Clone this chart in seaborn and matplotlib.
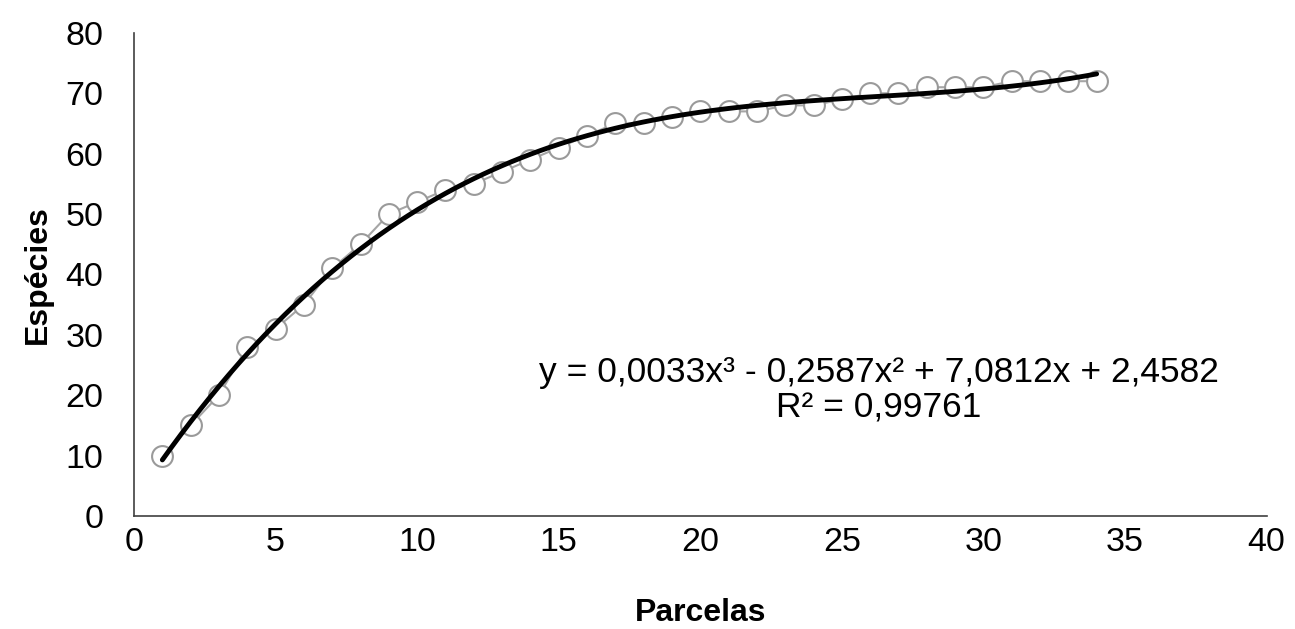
import matplotlib
matplotlib.use("Agg")
import matplotlib.pyplot as plt
import seaborn as sns
import pandas as pd

# Species accumulation data
parcelas = list(range(1, 35))
especies = [10, 15, 20, 28, 31, 35, 41, 45, 50, 52,
            54, 55, 57, 59, 61, 63, 65, 65, 66, 67,
            67, 67, 68, 68, 69, 70, 70, 71, 71, 71,
            72, 72, 72, 72]

x_ticks = [0, 5, 10, 15, 20, 25, 30, 35, 40]
y_ticks = [0, 10, 20, 30, 40, 50, 60, 70, 80]
equation = "y = 0,0033x³ - 0,2587x² + 7,0812x + 2,4582"
r2_text = "R² = 0,99761"

df = pd.DataFrame({"Parcelas": parcelas, "Espécies": especies})

sns.set_style("white")
plt.rcParams["font.family"] = ["Liberation Sans", "DejaVu Sans"]
plt.rcParams["text.color"] = "black"
plt.rcParams["xtick.color"] = "black"
plt.rcParams["ytick.color"] = "black"
plt.rcParams["axes.labelcolor"] = "black"

fig = plt.figure(figsize=(12.95, 6.29), dpi=100)
ax = fig.add_axes([0.1035, 0.1797, 0.8745, 0.768])

# observed points joined by a thin gray line
sns.lineplot(data=df, x="Parcelas", y="Espécies", ax=ax, color="#a6a6a6",
             linewidth=1.5, marker="o", markersize=15, markerfacecolor="white",
             markeredgecolor="#9a9a9a", markeredgewidth=1.5, zorder=2)

# third-order polynomial trend line
sns.regplot(data=df, x="Parcelas", y="Espécies", ax=ax, order=3, scatter=False,
            ci=None, truncate=True, line_kws={"color": "black", "linewidth": 3.5, "zorder": 3})

ax.set_xlim(0, 40)
ax.set_ylim(0, 80)
ax.set_xticks(x_ticks)
ax.set_yticks(y_ticks)
ax.tick_params(axis="both", length=0, labelsize=24.5)
ax.tick_params(axis="y", pad=22)
ax.tick_params(axis="x", pad=8)

for side in ["top", "right"]:
    ax.spines[side].set_visible(False)
for side in ["left", "bottom"]:
    ax.spines[side].set_color("#404040")
    ax.spines[side].set_linewidth(1.2)

ax.set_xlabel("Parcelas", fontsize=23, fontweight="bold", labelpad=29)
ax.set_ylabel("Espécies", fontsize=23, fontweight="bold", labelpad=9)

ax.text(26.3, 23.8, equation, fontsize=25.5, ha="center", va="center")
ax.text(26.3, 17.9, r2_text, fontsize=25.5, ha="center", va="center")

fig.savefig("out.png", dpi=100)
